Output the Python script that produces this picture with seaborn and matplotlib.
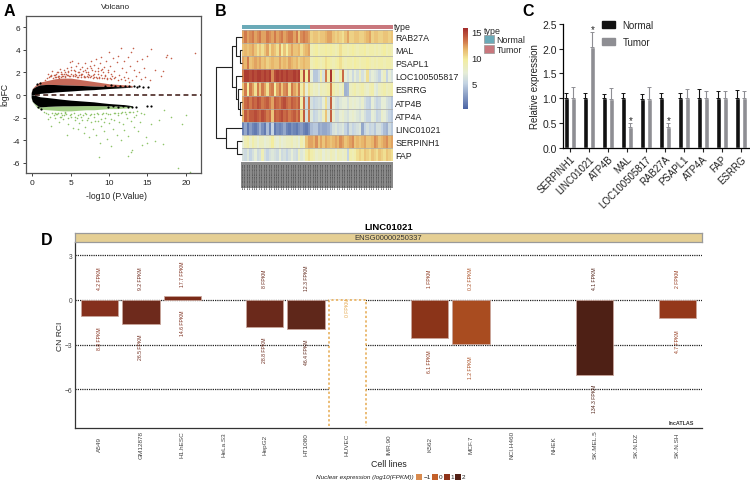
import matplotlib
matplotlib.use('Agg')

import numpy as np
import pandas as pd
import matplotlib.pyplot as plt
import seaborn as sns
from matplotlib.colors import LinearSegmentedColormap, ListedColormap
from matplotlib.patches import Patch, Rectangle

# panel A
band_x = [-0.15, 0.0, 0.3, 0.6, 1, 2, 3, 4, 5, 6, 7, 8, 9, 10, 11, 12, 13]
band_up_in = [0.0, 0.0, 0.02, 0.06, 0.15, 0.2, 0.27, 0.32, 0.36, 0.41, 0.45, 0.48, 0.53, 0.58, 0.62, 0.66, 0.7]
band_up_out = [0.2, 0.55, 0.7, 0.8, 0.9, 0.95, 0.93, 0.9, 0.88, 0.86, 0.83, 0.8, 0.78, 0.76, 0.75, 0.74, 0.72]
band_lo_in = [0.0, 0.0, -0.02, -0.06, -0.15, -0.22, -0.3, -0.38, -0.45, -0.5, -0.55, -0.6, -0.68, -0.75, -0.8, -0.85, -0.94]
band_lo_out = [-0.2, -0.55, -0.75, -0.9, -1.05, -1.0, -0.97, -0.95, -0.95, -0.94, -0.93, -0.93, -0.94, -0.95, -0.97, -1.0, -1.0]
red_edge = [0.25, 0.6, 0.8, 1.0, 1.15, 1.3, 1.45, 1.5, 1.5, 1.4, 1.3, 1.2, 1.1, 1.0, 0.95, 0.9, 0.85]
green_edge = [-0.25, -0.6, -0.85, -1.1, -1.25, -1.3, -1.35, -1.4, -1.4, -1.35, -1.3, -1.3, -1.25, -1.2, -1.2, -1.15, -1.1]

black_x = [9.5, 10.2, 10.8, 11.4, 12.1, 12.6, 13.2, 13.6, 13.9, 14.4, 15.1, 9.8, 10.5, 11.2, 11.8, 12.4, 13.0, 13.5, 14.9, 15.4, 0.6, 0.8, 1.1, 1.0]
black_y = [0.82, 0.85, 0.8, 0.84, 0.78, 0.8, 0.76, 0.7, 0.78, 0.74, 0.72, -1.02, -1.0, -1.05, -1.0, -1.05, -1.08, -1.1, -1.0, -0.98, 0.95, -1.1, -1.2, 1.05]

red_x = [2.1, 2.6, 3.0, 3.3, 3.6, 3.9, 4.1, 4.3, 4.5, 4.7, 4.9, 5.0, 5.2, 5.4, 5.5, 5.7, 5.9, 6.0, 6.2, 6.3,
         6.5, 6.6, 6.8, 7.0, 7.1, 7.3, 7.5, 7.6, 7.8, 7.9, 8.0, 8.2, 8.3, 8.5, 8.6, 8.8, 8.9, 9.0, 9.2, 9.3,
         9.5, 9.6, 9.8, 10.0, 10.1, 10.3, 10.5, 10.6, 10.8, 11.0, 11.2, 11.3, 11.5, 11.7, 11.9, 12.0, 12.2, 12.4, 12.5, 12.7,
         12.9, 13.1, 13.3, 13.5, 13.7, 13.9, 14.1, 14.3, 14.5, 14.7, 15.0, 15.3, 15.5, 16.0, 16.8, 17.0, 17.4, 17.6, 18.0, 21.2,
         3.4, 4.0, 4.6, 5.1, 5.6, 6.1, 6.7, 7.2, 7.7, 8.1, 8.7, 9.1, 9.7, 10.2, 10.7, 11.1, 11.6, 12.1, 12.6, 13.0,
         1.6, 1.9, 2.2, 2.4, 2.7, 2.8, 3.1, 3.2, 3.5, 3.7, 3.8, 4.2, 4.4, 4.8, 5.3, 5.8, 6.4, 6.9, 7.4, 8.4,
         2.3, 2.5, 2.9, 3.1, 3.3, 3.5, 3.7, 3.9, 4.1, 4.3, 4.5, 4.7, 4.9, 5.1, 5.3, 5.5, 5.7, 5.9, 6.1, 6.3,
         6.5, 6.7, 6.9, 7.1, 7.3, 7.5, 7.7, 7.9, 8.1, 8.3, 8.5, 8.7, 8.9, 9.1, 9.3, 9.5, 9.7, 9.9, 10.1, 10.4]
red_y = [1.9, 2.1, 1.8, 2.0, 2.3, 1.9, 2.2, 2.0, 2.4, 2.1, 2.9, 2.5, 3.0, 2.2, 1.9, 2.6, 2.0, 2.8, 2.3, 1.8,
         2.5, 2.1, 2.8, 2.0, 2.4, 1.9, 2.6, 3.0, 2.2, 1.8, 2.7, 2.1, 3.2, 2.4, 1.9, 2.8, 2.2, 3.4, 2.0, 2.5,
         1.7, 3.0, 2.2, 3.8, 2.6, 1.9, 3.3, 2.1, 1.6, 2.9, 3.5, 1.8, 4.2, 2.4, 1.6, 3.0, 2.0, 3.4, 1.5, 2.6,
         3.8, 4.15, 2.2, 1.7, 3.0, 2.0, 1.4, 3.2, 2.4, 1.6, 3.5, 1.3, 4.1, 2.2, 1.7, 2.1, 3.4, 3.55, 3.3, 3.7,
         1.6, 1.7, 1.8, 1.9, 1.7, 1.8, 1.7, 1.6, 1.7, 1.6, 1.6, 1.5, 1.5, 1.4, 1.5, 1.3, 1.4, 1.3, 1.2, 1.3,
         1.3, 1.5, 1.6, 1.7, 1.5, 1.8, 1.6, 2.0, 1.7, 1.6, 1.9, 1.6, 1.9, 1.7, 1.8, 1.6, 1.9, 1.6, 1.8, 1.5,
         1.7, 1.8, 1.6, 1.9, 1.7, 1.55, 2.0, 1.7, 1.9, 1.65, 1.8, 2.0, 1.7, 2.2, 1.65, 2.1, 1.8, 1.6, 2.0, 1.6,
         1.9, 1.6, 2.2, 1.7, 2.0, 1.6, 2.4, 1.5, 1.9, 1.6, 2.1, 1.5, 1.8, 2.3, 1.5, 1.8, 1.4, 2.0, 1.5, 1.7]

green_x = [2.5, 3.0, 3.5, 4.0, 4.5, 4.6, 5.0, 5.3, 5.6, 5.9, 6.1, 6.4, 6.7, 6.9, 7.1, 7.4, 7.6, 7.9, 8.1, 8.3,
           8.6, 8.8, 9.0, 9.3, 9.5, 9.7, 10.0, 10.2, 10.5, 10.7, 11.0, 11.2, 11.5, 11.8, 12.0, 12.3, 12.5, 12.8, 13.0, 13.2,
           13.5, 13.8, 14.0, 14.3, 14.5, 14.8, 15.0, 15.5, 16.0, 16.5, 17.0, 17.2, 18.0, 19.0, 19.5, 20.0, 20.5, 8.7, 12.9, 12.5,
           3.2, 3.9, 4.4, 4.9, 5.5, 6.0, 6.6, 7.0, 7.5, 8.0, 8.5, 9.1, 9.6, 10.1, 10.6, 11.1, 11.6, 12.1, 12.6, 13.1,
           1.5, 1.8, 2.1, 2.3, 2.6, 2.8, 3.1, 3.3, 3.6, 3.8, 4.1, 4.3, 4.7, 5.1, 5.4, 5.8, 6.2, 6.5, 6.8, 7.3,
           7.7, 8.2, 8.4, 8.9, 9.2, 9.4, 9.9, 10.3, 10.8, 11.3, 11.7, 12.2, 12.7, 13.3, 13.7, 14.2, 2.0, 2.9, 3.7, 4.2]
green_y = [-2.7, -2.0, -2.4, -2.1, -3.5, -2.6, -1.9, -2.9, -2.2, -3.0, -2.5, -1.9, -3.4, -2.8, -2.2, -3.7, -2.4, -3.0, -1.9, -3.5,
           -2.3, -4.2, -2.7, -3.2, -2.0, -3.9, -2.5, -4.5, -3.0, -2.2, -3.5, -1.8, -4.0, -2.6, -3.1, -2.0, -3.6, -2.3, -4.9, -2.8,
           -1.8, -3.2, -2.4, -4.4, -1.7, -3.7, -4.2, -2.6, -4.1, -2.2, -4.3, -1.3, -1.9, -6.5, -2.6, -1.8, -6.8, -5.5, -5.0, -5.4,
           -1.7, -1.8, -1.7, -1.8, -1.9, -1.8, -1.8, -1.7, -1.8, -1.7, -1.7, -1.7, -1.6, -1.7, -1.6, -1.6, -1.6, -1.5, -1.5, -1.5,
           -1.5, -1.6, -1.7, -1.9, -1.6, -1.8, -1.7, -1.6, -1.9, -1.6, -1.8, -1.6, -2.0, -1.7, -1.6, -2.0, -1.7, -2.2, -1.6, -2.0,
           -1.7, -2.3, -1.6, -2.1, -1.6, -2.4, -1.7, -2.1, -1.6, -2.4, -1.5, -1.7, -1.5, -1.9, -1.4, -1.6, -2.1, -1.6, -1.9, -1.5]

# panel B, expression per sample column (28 normal, 34 tumor)
genes = ['RAB27A', 'MAL', 'PSAPL1', 'LOC100505817', 'ESRRG', 'ATP4B', 'ATP4A', 'LINC01021', 'SERPINH1', 'FAP']
n_normal = 28
rab27a = [12, 13, 12, 12.5, 13, 12, 12.5, 13, 12, 12, 13, 12.5, 12, 13, 12, 12.5, 13, 12, 12.5, 13, 13, 12, 13, 11, 12.5, 13, 12.5, 12,
          10.5, 11, 11, 10.5, 11, 11, 11.5, 12, 12, 11, 10.5, 11, 10.5, 10, 11, 12, 10.5, 10.5, 11, 11, 10.5, 10.5, 11, 11.5, 12, 10.5, 11, 11, 10.5, 10.5, 11, 11, 10.5, 11]
mal = [11, 11.5, 11, 11.5, 12, 11, 10, 11, 10, 11, 12, 10, 11.5, 11, 10, 12, 9.5, 11, 9.5, 11, 12, 11, 11, 11.5, 10, 11, 11.5, 12,
       8.5, 9, 9.5, 8.5, 9, 9, 9.5, 9, 9.5, 9, 8.5, 9, 10, 9, 9, 8.5, 9, 9.5, 9, 8.5, 9, 9, 9.5, 8.5, 9, 9, 8.5, 9, 8.5, 9, 9.5, 8.5, 9, 8.5]
psapl1 = [12, 11.5, 13, 11, 11.5, 12, 11.5, 12, 11, 11.5, 10.5, 11, 11.5, 11, 11, 12, 11, 11.5, 11, 12, 11.5, 11, 11.5, 10.5, 11, 11.5, 11, 11,
          8.5, 9, 9.5, 9, 8.5, 9, 10, 9.5, 9, 8.5, 9, 9.5, 10, 9, 8.5, 9, 9, 8.5, 9.5, 9, 8.5, 9, 9, 9.5, 9, 8.5, 9, 8.5, 9, 9, 8.5, 9, 9, 8.5]
loc100505817 = [13, 15, 15, 14.5, 15, 14.5, 15, 15, 14.5, 15, 14.5, 15, 12.5, 14.5, 15, 14.5, 15, 14.5, 15, 14.5, 14.5, 15, 14.5, 15, 10, 14.5, 9.5, 14,
                7, 4.5, 4.5, 5.5, 9, 6, 13, 9, 15.2, 9, 7, 7, 9, 13.5, 7, 6, 7, 5.5, 7, 6, 8, 6, 7, 10, 6, 7, 6.5, 6, 5, 7, 8, 5, 7, 6]
esrrg = [11, 13, 9.5, 13, 12, 10, 13, 11, 13, 12, 10, 12.5, 13, 9.5, 12, 13, 11, 12.5, 13, 10, 13, 12, 11, 13, 9, 11, 7, 10,
         8.5, 7.5, 8, 7, 8.5, 8, 8.5, 9, 13, 9, 8, 8.5, 7.5, 8.5, 3.5, 3.8, 8, 8.5, 9, 8, 8.5, 9, 8, 7.5, 8.5, 9, 7, 6.5, 8, 8.5, 9, 8, 8.5, 9]
atp4b = [12, 13.5, 14, 13, 14, 13.5, 14.5, 14, 13, 13.5, 14, 13, 12, 14, 13.5, 13, 14, 14.5, 13.5, 13, 14, 13.5, 13, 14, 9, 13.5, 5.5, 13,
         6, 5, 5.5, 6, 5.5, 7, 10, 6, 13.8, 7, 6, 5.5, 6.5, 7, 7, 6, 7.5, 7, 7.5, 7, 6.5, 7.5, 6, 5, 4.8, 7, 6, 5, 5.5, 7, 7, 6, 5.5, 4.5]
atp4a = [11.5, 14, 13, 14, 14, 14.5, 14, 13.5, 14.5, 14, 13, 13.5, 11, 14, 13.5, 14, 14.5, 13.5, 14, 13, 13.5, 14, 13, 14, 10, 14, 6, 13,
         6.5, 5, 5.5, 6.5, 6, 8, 11, 6.5, 13.8, 7.5, 6, 6, 7, 7.5, 6.5, 6, 7, 7.5, 7, 6.5, 6, 7, 6, 5, 5, 7, 6.5, 5, 5.5, 7.5, 7, 6, 5, 4.5]
linc01021 = [1.5, 3, 1, 2.5, 1.5, 1, 2, 3.5, 2, 1, 4, 1.5, 5, 1, 2, 1.5, 2, 3, 1.5, 1, 2, 1.5, 1, 2, 2.5, 1.5, 1, 2,
             4, 4.5, 4.5, 3, 3.5, 3, 3, 3.5, 4.5, 6, 6.5, 5.5, 6, 6.5, 5, 4, 6, 5, 5.5, 6, 6.5, 3, 5, 6, 5, 5.5, 4.5, 6, 6, 5, 4, 3.5, 5.5, 4.5]
serpinh1 = [7, 8.5, 9, 7.5, 9, 8, 7, 8, 8, 7, 7.5, 8, 9.5, 7.5, 7, 8, 7, 7.5, 8, 8, 8.5, 7.5, 8, 7, 9, 8, 11, 12,
            12, 11.5, 12.5, 11, 12, 11, 12, 11.5, 11, 11.5, 12, 11.5, 12.5, 12, 11, 11.5, 12, 12.5, 11, 11.5, 11, 11.5, 12, 11, 11, 11.5, 12.5, 12, 11, 11.5, 12, 12.5, 11.5, 12]
fap = [6, 5.5, 6.5, 5, 6, 7, 5.5, 6, 8.5, 6, 5, 6, 6.5, 6, 5.5, 7, 5.5, 6, 5, 6, 7, 6, 5.5, 8, 6.5, 7, 9, 10,
       9, 8.5, 7.5, 8, 8.5, 7, 8, 7.5, 8.5, 8, 7, 8.5, 8, 7.5, 8, 5, 9, 8.5, 9, 10, 10.5, 10, 11, 10.5, 10, 11, 10.5, 10, 11, 10.5, 10, 11, 10.5, 10]

# dendrogram merges: left node, right node, height
dendro_merges = [(1, 2, 2.5), (0, 10, 6.3), (5, 6, 2.0), (4, 12, 3.7), (3, 13, 6.3),
                 (11, 14, 10.3), (8, 9, 5.3), (7, 16, 16.3), (15, 17, 26.0)]

# panel C
qpcr_genes = ['SERPINH1', 'LINC01021', 'ATP4B', 'MAL', 'LOC100505817', 'RAB27A', 'PSAPL1', 'ATP4A', 'FAP', 'ESRRG']
normal_mean = [1.0, 1.0, 1.0, 1.01, 0.98, 1.0, 1.0, 1.0, 1.0, 1.0]
tumor_mean = [1.0, 2.03, 0.98, 0.43, 0.99, 0.43, 1.01, 1.01, 1.0, 1.0]
normal_err = [0.10, 0.10, 0.08, 0.10, 0.10, 0.10, 0.11, 0.18, 0.15, 0.16]
tumor_err = [0.23, 0.30, 0.23, 0.07, 0.23, 0.07, 0.17, 0.14, 0.15, 0.14]
signif_genes = ['LINC01021', 'MAL', 'RAB27A']

# panel D
cell_lines = ['A549', 'GM12878', 'H1.hESC', 'HeLa.S3', 'HepG2', 'HT1080', 'HUVEC', 'IMR.90',
              'K562', 'MCF.7', 'NCI.H460', 'NHEK', 'SK.MEL.5', 'SK.N.DZ', 'SK.N.SH']
rci_cells = ['A549', 'GM12878', 'H1.hESC', 'HepG2', 'HT1080', 'HUVEC', 'K562', 'MCF.7', 'SK.MEL.5', 'SK.N.SH']
rci_values = [-1.05, -1.63, 0.29, -1.83, -1.97, -8.44, -2.57, -2.95, -5.06, -1.23]
rci_colors = ['#85301D', '#6E2A1C', '#7A2A18', '#6B291B', '#5F271A', 'white', '#8B3419', '#A94C20', '#4E2015', '#94381A']
fpkm_cyto = ['4.2', '9.2', '17.7', '8', '12.3', '', '1', '0.2', '4.1', '2']
fpkm_nuc = ['8.8', '26.5', '14.6', '28.8', '46.4', '0', '6.1', '1.2', '134.3', '4.7']
nuc_levels = ['\u22121', '0', '1', '2']
nuc_colors = ['#D98B4F', '#C4602A', '#8F3319', '#521F14']


sns.set_theme(style='white')
plt.rcParams['font.family'] = ['Liberation Sans', 'DejaVu Sans']

W, H = 750, 485
fig = plt.figure(figsize=(W / 100, H / 100), dpi=100)


def px_axes(x0, y0, x1, y1):
    return fig.add_axes([x0 / W, 1 - y1 / H, (x1 - x0) / W, (y1 - y0) / H])


def px_text(x, y, s, **kw):
    kw.setdefault('ha', 'center')
    kw.setdefault('va', 'center')
    fig.text(x / W, 1 - y / H, s, **kw)


for letter, lx, ly in [('A', 9, 12), ('B', 221, 12), ('C', 528, 12), ('D', 47, 241)]:
    px_text(lx, ly, letter, fontsize=11.5, fontweight='bold', color='black')

# A: volcano
ax = px_axes(26, 17, 201, 174)
ax.fill_between(band_x, band_up_out, red_edge, color='#B8442F', alpha=0.8, lw=0)
ax.fill_between(band_x, band_lo_out, green_edge, color='#86BE5E', alpha=0.75, lw=0)
sns.scatterplot(x=red_x, y=red_y, s=1.3, color='#C4604A', linewidth=0, ax=ax)
sns.scatterplot(x=green_x, y=green_y, s=1.3, color='#8FC46A', linewidth=0, ax=ax)
ax.fill_between(band_x, band_up_in, band_up_out, color='black', lw=0)
ax.fill_between(band_x, band_lo_in, band_lo_out, color='black', lw=0)
sns.scatterplot(x=black_x, y=black_y, s=2.5, color='black', linewidth=0, ax=ax)
ax.axhline(0, xmin=0.05, color='#3A1510', lw=1.1, ls=(0, (3.2, 2.2)))
ax.set_xlim(-0.82, 21.97)
ax.set_ylim(-6.9, 7.0)
ax.set_xticks([0, 5, 10, 15, 20])
ax.set_yticks([-6, -4, -2, 0, 2, 4, 6])
ax.set_yticklabels(['-6', '-4', '-2', '0', '2', '4', '6'])
ax.tick_params(labelsize=6, length=2.5, width=0.6, pad=1.5, left=True, bottom=True, colors='#222222')
for sp in ax.spines.values():
    sp.set_color('#555555')
    sp.set_linewidth(0.9)
px_text(116, 7.5, 'Volcano', fontsize=5.9, color='#222222')
px_text(116, 196.5, '-log10 (P.Value)', fontsize=6.2, color='#222222')
px_text(5, 95, 'logFC', fontsize=6.2, rotation=90, color='#222222')

# B: heatmap
heat_cmap = LinearSegmentedColormap.from_list('heat', [
    (0.0, '#4A64A5'), (5 / 15.6, '#C5D4E3'), (7 / 15.6, '#E6EDD6'), (9.5 / 15.6, '#F3EDA0'),
    (11.5 / 15.6, '#E8B76C'), (13.2 / 15.6, '#CF7349'), (1.0, '#A32B2B')])
matrix = np.array([rab27a, mal, psapl1, loc100505817, esrrg, atp4b, atp4a, linc01021, serpinh1, fap])
sample_ids = ['TCGA.XX.XXXX.%s.01' % ('11A' if i < n_normal else '01A') for i in range(matrix.shape[1])]
heat_df = pd.DataFrame(matrix, index=genes, columns=sample_ids)

# the sample names are an unreadable dark block in the reference
fig.add_artist(Rectangle((241 / W, 1 - 189 / H), 152 / W, 26 / H, transform=fig.transFigure,
                         facecolor='#8A8A8A', edgecolor='none', zorder=0))

ax = px_axes(242, 31, 393, 162)
ax.patch.set_alpha(0)
cax = px_axes(463, 29, 468, 110)
sns.heatmap(heat_df, cmap=heat_cmap, vmin=0, vmax=15.6, ax=ax, cbar_ax=cax, xticklabels=True, yticklabels=True)
ax.yaxis.tick_right()
ax.tick_params(axis='y', length=0, labelsize=6.4, pad=1.5, labelrotation=0, colors='#222222')
ax.tick_params(axis='x', length=0, labelsize=1.7, pad=0.8, labelrotation=90, colors='black')
for i in range(len(genes) + 1):
    ax.axhline(i, color='#A8A8A8', lw=0.5)
cax.tick_params(length=0, labelsize=6.8, pad=2.5, colors='#222222')
cax.set_yticks([5, 10, 15])
ax.collections[0].colorbar.outline.set_visible(False)

ax = px_axes(242, 26, 393, 30)
sns.heatmap([[0] * n_normal + [1] * (matrix.shape[1] - n_normal)], cmap=ListedColormap(['#6AAAB8', '#C9777D']),
            cbar=False, ax=ax, xticklabels=False, yticklabels=False)
px_text(394, 27.5, 'type', fontsize=6.4, ha='left', color='#222222')

ax = px_axes(216, 31, 242, 162)
node_pos = {i: (i + 0.5, 0.0) for i in range(len(genes))}
for k, (a, b, h) in enumerate(dendro_merges):
    ya, ha = node_pos[a]
    yb, hb = node_pos[b]
    ax.plot([ha, h, h, hb], [ya, ya, yb, yb], color='#222222', lw=0.8, solid_capstyle='butt', clip_on=False)
    node_pos[len(genes) + k] = ((ya + yb) / 2, h)
ax.set_xlim(26, 0)
ax.set_ylim(len(genes), 0)
ax.axis('off')

leg = fig.legend(handles=[Patch(facecolor='#6AAAB8', edgecolor='#999999', lw=0.5),
                          Patch(facecolor='#C9777D', edgecolor='#999999', lw=0.5)],
                 labels=['Normal', 'Tumor'], title='type', fontsize=6.4, title_fontsize=6.4,
                 loc='upper left', bbox_to_anchor=(484 / W, 1 - 27 / H), frameon=False, borderpad=0,
                 handlelength=1.1, handleheight=1.0, handletextpad=0.3, labelspacing=0.05, borderaxespad=0)
leg._legend_box.align = 'left'

# C: qPCR bars
ax = px_axes(563.3, 24.7, 749, 149)
bar_df = pd.DataFrame({'gene': qpcr_genes * 2,
                       'expr': normal_mean + tumor_mean,
                       'group': ['Normal'] * 10 + ['Tumor'] * 10})
sns.barplot(data=bar_df, x='gene', y='expr', hue='group', palette={'Normal': '#111111', 'Tumor': '#8E8E93'},
            width=0.74, gap=0.3, errorbar=None, saturation=1, ax=ax)
for cont, err, col in zip(ax.containers, [normal_err, tumor_err], ['#111111', '#8E8E93']):
    xs = [p.get_x() + p.get_width() / 2 for p in cont]
    hs = [p.get_height() for p in cont]
    ax.errorbar(xs, hs, yerr=[[0] * len(err), err], fmt='none', ecolor=col, elinewidth=0.8, capsize=1.2, capthick=0.7)
    if col != '#111111':
        for g, x, h, e in zip(qpcr_genes, xs, hs, err):
            if g in signif_genes:
                ax.text(x, h + e - 0.03, '*', ha='center', va='bottom', fontsize=7, color='#222222')
ax.set_xlim(-0.35, 9.44)
ax.set_ylim(0, 2.5)
ax.set_yticks([0, 0.5, 1.0, 1.5, 2.0, 2.5])
ax.set_yticklabels(['0.0', '0.5', '1.0', '1.5', '2.0', '2.5'])
ax.set_xlabel('')
ax.set_ylabel('Relative expression', fontsize=7, labelpad=2, color='#222222')
ax.tick_params(axis='y', labelsize=7.5, length=3, width=0.8, pad=1.5, left=True, colors='#222222')
ax.tick_params(axis='x', labelsize=7, length=3, width=0.8, pad=1, bottom=True, colors='#222222')
plt.setp(ax.get_xticklabels(), rotation=45, ha='right', rotation_mode='anchor')
sns.despine(ax=ax)
for side in ['left', 'bottom']:
    ax.spines[side].set_color('black')
    ax.spines[side].set_linewidth(0.9)
ax.legend(handles=[Patch(color='#111111'), Patch(color='#8E8E93')], labels=['Normal', 'Tumor'],
          loc='upper left', bbox_to_anchor=((601.7 - 563.3) / 185.7, 1.03), frameon=False, fontsize=7,
          handlelength=1.37, handleheight=0.62, handletextpad=0.75, labelspacing=0.7, borderpad=0, borderaxespad=0)

# D: lncATLAS bars
ax = px_axes(75, 243.3, 702, 429.3)
for gy in [3, 0, -3, -6]:
    ax.axhline(gy, color='#222222', lw=0.9, ls=(0, (1, 0.8)), zorder=0.5)
rci_df = pd.DataFrame({'cell': rci_cells, 'rci': rci_values})
sns.barplot(data=rci_df, x='cell', y='rci', hue='cell', order=cell_lines, hue_order=rci_cells,
            palette=dict(zip(rci_cells, rci_colors)), width=0.9, saturation=1, legend=False, ax=ax)
for p in ax.patches:
    cell = cell_lines[int(round(p.get_x() + p.get_width() / 2))]
    if cell == 'HUVEC':
        # open at the bottom in the reference, so redraw the outline without that edge
        p.set_edgecolor('none')
        px0, px1 = p.get_x(), p.get_x() + p.get_width()
        ax.plot([px0, px0, px1, px1], [p.get_y() + p.get_height(), p.get_y(), p.get_y(), p.get_y() + p.get_height()],
                color='#E5A94F', lw=1.1, ls=(0, (1.5, 1.5)), zorder=3)
    else:
        p.set_edgecolor('#C9A59B')
        p.set_linewidth(0.6)
for cell, v, col, top, bot in zip(rci_cells, rci_values, rci_colors, fpkm_cyto, fpkm_nuc):
    i = cell_lines.index(cell)
    if cell == 'HUVEC':
        ax.text(i, -0.47, bot + ' FPKM', rotation=90, fontsize=3.7, ha='center', va='center', color='#E5A94F')
        continue
    ax.text(i, max(v, 0) + 1.5, top + ' FPKM', rotation=90, fontsize=3.7, ha='center', va='center', color=col)
    ax.text(i, min(v, 0) - 1.5, bot + ' FPKM', rotation=90, fontsize=3.7, ha='center', va='center', color=col)
ax.set_xlim(-0.6, 14.6)
ax.set_ylim(-8.62, 3.87)
ax.set_yticks([3, 0, -3, -6])
ax.set_yticklabels(['3', '0', '\u22123', '\u22126'])
ax.set_xlabel('')
ax.set_ylabel('')
ax.tick_params(axis='y', labelsize=4.8, length=0, pad=2, colors='#444444')
ax.tick_params(axis='x', labelsize=4.6, length=0, pad=11.3, colors='#444444')
plt.setp(ax.get_xticklabels(), rotation=90, ha='center', va='center')
sns.despine(ax=ax)
for side in ['left', 'bottom']:
    ax.spines[side].set_color('#333333')
    ax.spines[side].set_linewidth(0.9)
ax.text(14.4, -8.25, 'lncATLAS', fontsize=3.9, fontweight='bold', ha='right', va='center', color='#333333')

ax = px_axes(75, 234, 702, 243.3)
ax.set_facecolor('#E5CF94')
ax.set_xticks([])
ax.set_yticks([])
for sp in ax.spines.values():
    sp.set_color('#9A9A9A')
    sp.set_linewidth(0.9)
ax.text(0.5, 0.48, 'ENSG00000250337', transform=ax.transAxes, fontsize=5.5, ha='center', va='center', color='#333333')

px_text(388.5, 228, 'LINC01021', fontsize=6.8, fontweight='bold', color='black')
px_text(388.5, 465, 'Cell lines', fontsize=6.3, color='#222222')
px_text(60.5, 336.5, 'CN RCI', fontsize=6.1, rotation=90, color='#222222')
px_text(414, 477.5, 'Nuclear expression (log10(FPKM))', fontsize=4.6, style='italic', ha='right', color='#222222')

for lvl, col, sx, tx in zip(nuc_levels, nuc_colors, [416, 432, 443.5, 455], [427, 440.5, 452, 463.5]):
    fig.add_artist(Rectangle((sx / W, 1 - 480.5 / H), 6 / W, 6 / H, transform=fig.transFigure, facecolor=col, edgecolor='none'))
    px_text(tx, 477.5, lvl, fontsize=4.6, color='#222222')

fig.savefig('out.png', dpi=100)
